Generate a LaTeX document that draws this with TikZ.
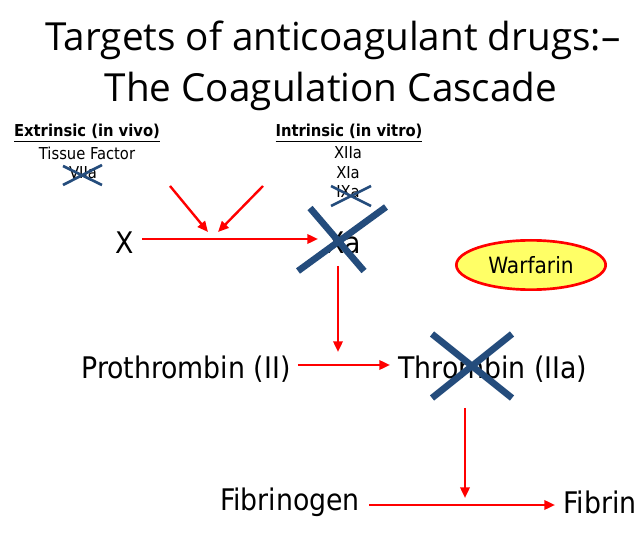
\documentclass[tikz,border=0pt]{standalone}
\usepackage{fontspec}
\setmainfont{DejaVu Sans Condensed}
\newfontfamily\titlefont{Open Sans}
\usetikzlibrary{arrows.meta,shapes.geometric}
\definecolor{crossblue}{HTML}{244C7C}
\definecolor{warfill}{HTML}{FFFF66}
\tikzset{
  flow/.style={draw=red, line width=1.8pt, -{Triangle[length=8pt,width=7pt]}},
  cross/.style={draw=crossblue, line width=5pt},
  smallcross/.style={draw=crossblue, line width=2pt},
  factor/.style={inner sep=0pt, font=\fontsize{22.3}{25}\selectfont},
  small/.style={inner sep=0pt, font=\fontsize{12.3}{14}\selectfont}
}
\begin{document}
\begin{tikzpicture}[x=0.75pt,y=-0.75pt]
\useasboundingbox (0,0) rectangle (636,552);

\node[inner sep=0pt, font=\titlefont\fontsize{29}{33}\selectfont] (title1) at (333,40) {Targets of anticoagulant drugs:\textendash};
\node[inner sep=0pt, font=\titlefont\fontsize{29}{33}\selectfont] (title2) at (331,91) {The Coagulation Cascade};

% pathways
\node[small, font=\bfseries\fontsize{12.3}{14}\selectfont] (extr) at (87,133) {\underline{Extrinsic (in vivo)}};
\node[small] (tf) at (87,153) {Tissue Factor};
\node[small] (viia) at (83,173) {VIIa};
\node[small, font=\bfseries\fontsize{12.3}{14}\selectfont] (intr) at (349,133) {\underline{Intrinsic (in vitro)}};
\node[small] (xiia) at (348,153) {XIIa};
\node[small] (xia) at (348,173) {XIa};
\node[small] (ixa) at (348,192) {IXa};

% factors
\node[factor] (X) at (125,243) {X};
\node[factor] (Xa) at (344,243) {Xa};
\node[factor] (pro) at (186,369) {Prothrombin (II)};
\node[factor] (thr) at (493,369) {Thrombin (IIa)};
\node[factor] (fbg) at (290,502) {Fibrinogen};
\node[factor] (fbn) at (600,502) {Fibrin};

\node[ellipse, draw=red, line width=2pt, fill=warfill, minimum width=112pt, minimum height=37pt,
  font=\fontsize{16.8}{19}\selectfont] (war) at (531,265) {Warfarin};

% junctions
\coordinate (j1) at (213,232);
\coordinate (j2) at (338,352);
\coordinate (j3) at (465,498);
\coordinate (e1) at (170,186);
\coordinate (e2) at (263,186);

\draw[flow] (e1) -- (208,232);
\draw[flow] (e2) -- (218,232);
\draw[flow] (X.east) ++(8,-4) -- (318,239);
\draw[flow] (338,266) -- (j2);
\draw[flow] (pro.east) ++(7,-4) -- (390,365);
\draw[flow] (465,408) -- (j3);
\draw[flow] (fbg.east) ++(9,3) -- (555,505);

% crosses
\draw[smallcross] (63,185) -- (102,165) (63,166) -- (102,185);
\draw[smallcross] (331,186) -- (371,206) (331,206) -- (371,186);
\draw[cross] (310,208) -- (364,271) (386,207) -- (298,271);
\draw[cross] (432,334) -- (512,398) (512,334) -- (432,398);
\end{tikzpicture}
\end{document}
